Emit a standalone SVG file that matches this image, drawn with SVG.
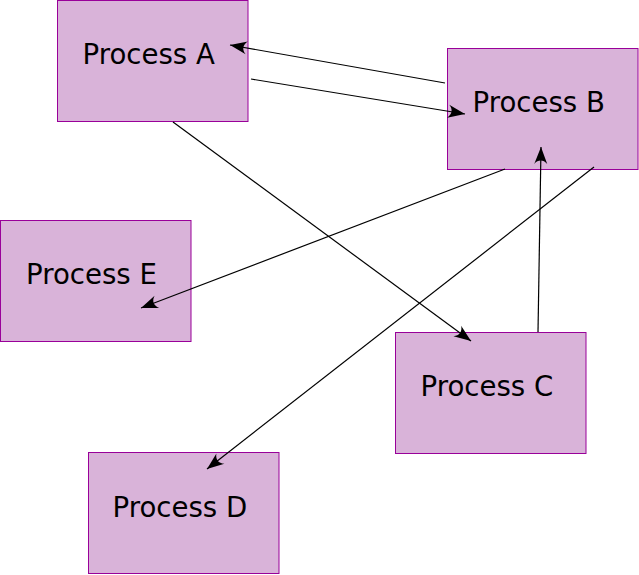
<svg xmlns="http://www.w3.org/2000/svg" width="639" height="575" viewBox="0 0 639 575">
<style>
.box{fill:#d9b3d9;stroke:#990099;stroke-width:1}
.lbl{font-family:"DejaVu Sans",sans-serif;font-size:27.6px;fill:#000}
.edge{fill:none;stroke:#000;stroke-width:1.2}
</style>
<defs>
<marker id="ah" markerUnits="userSpaceOnUse" orient="auto" refX="0" refY="0" markerWidth="24" markerHeight="20" viewBox="-20 -10 24 20" overflow="visible">
<path d="M0,0 L-17,-6.5 C-12.5,-2.5 -12.5,2.5 -17,6.5 Z" fill="#000"/>
</marker>
</defs>
<g id="nodeA"><rect class="box" x="57.5" y="0.5" width="190.5" height="121"/><text class="lbl" x="82.5" y="64">Process A</text></g>
<g id="nodeB"><rect class="box" x="447.5" y="48.5" width="190.5" height="121"/><text class="lbl" x="472.5" y="112">Process B</text></g>
<g id="nodeE"><rect class="box" x="0.5" y="220.5" width="190.5" height="121"/><text class="lbl" x="26" y="284">Process E</text></g>
<g id="nodeC"><rect class="box" x="395.5" y="332.5" width="190.5" height="121"/><text class="lbl" x="420.5" y="396">Process C</text></g>
<g id="nodeD"><rect class="box" x="88.5" y="452.5" width="190.5" height="121"/><text class="lbl" x="112.5" y="517">Process D</text></g>
<g id="connectors">
<line class="edge" x1="445" y1="83" x2="230" y2="45" marker-end="url(#ah)"/>
<line class="edge" x1="251" y1="79" x2="465" y2="114" marker-end="url(#ah)"/>
<line class="edge" x1="173" y1="122" x2="471" y2="341" marker-end="url(#ah)"/>
<line class="edge" x1="505" y1="169" x2="141" y2="308" marker-end="url(#ah)"/>
<line class="edge" x1="594" y1="167" x2="207" y2="469" marker-end="url(#ah)"/>
<line class="edge" x1="538" y1="332" x2="541" y2="147" marker-end="url(#ah)"/>
</g>
</svg>
